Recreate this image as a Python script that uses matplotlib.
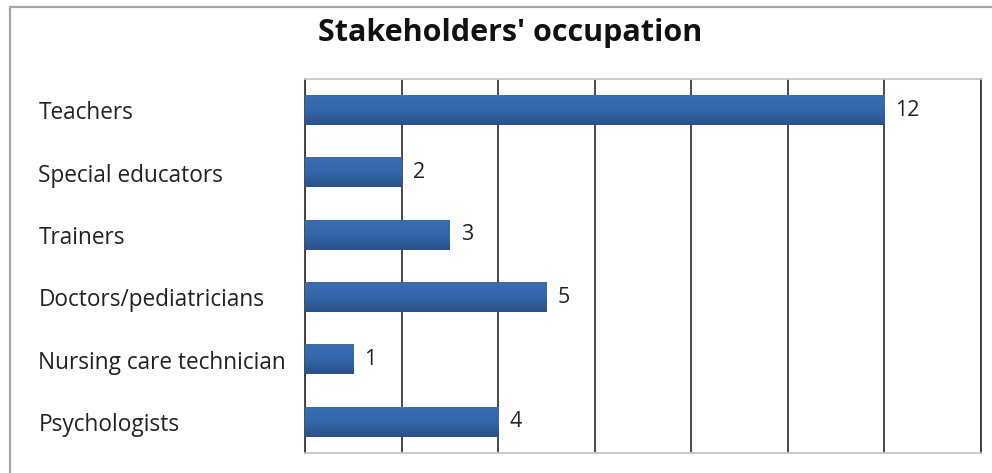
import matplotlib.pyplot as plt
import numpy as np
from matplotlib.colors import LinearSegmentedColormap
from matplotlib.patches import Rectangle

categories = ['Teachers', 'Special educators', 'Trainers', 'Doctors/pediatricians',
              'Nursing care technician', 'Psychologists']
counts = [12, 2, 3, 5, 1, 4]

plt.rcParams['font.family'] = ['Open Sans', 'DejaVu Sans']

fig = plt.figure(figsize=(9.92, 4.73), dpi=100)
ax = fig.add_axes([305 / 992, 1 - 453 / 473, 676 / 992, 374 / 473])

# outer chart border (only left and top visible in the crop)
fig.patches.append(Rectangle((10 / 992, -0.1), 1.2, 1.1 - 7 / 473,
                             transform=fig.transFigure, fill=False,
                             edgecolor='#a6a6a6', linewidth=1.6, zorder=0))

ypos = np.arange(len(categories))
bars = ax.barh(ypos, counts, height=0.48, color='#3163a3', zorder=3)

# vertical gradient on each bar
cmap = LinearSegmentedColormap.from_list('bar', ['#3a6cb2', '#3466aa', '#2a5189'])
grad = np.linspace(0, 1, 64).reshape(-1, 1)
for b in bars:
    x0, y0, w, h = b.get_x(), b.get_y(), b.get_width(), b.get_height()
    b.set_visible(False)
    ax.imshow(grad, cmap=cmap, aspect='auto', extent=(x0, x0 + w, y0 + h, y0),
              zorder=3, interpolation='bilinear')

for y, v in zip(ypos, counts):
    ax.text(v + 0.23, y, str(v), va='center', ha='left', fontsize=15.5, color='#222222')

ax.set_xlim(0, 14)
ax.set_ylim(len(categories) - 0.5, -0.5)
ax.set_xticks(np.arange(0, 15, 2))
ax.set_xticklabels([])
ax.tick_params(axis='x', length=0)
ax.grid(axis='x', color='#3a3a3a', linewidth=1.3, zorder=1)
ax.set_axisbelow(True)

ax.set_yticks(ypos)
ax.set_yticklabels(categories, fontsize=16.3, color='#222222')
ax.tick_params(axis='y', length=0, pad=192)
for lab in ax.get_yticklabels():
    lab.set_horizontalalignment('left')

for s in ['top', 'bottom']:
    ax.spines[s].set_color('#c8c8c8')
    ax.spines[s].set_linewidth(1.3)
for s in ['left', 'right']:
    ax.spines[s].set_color('#3a3a3a')
    ax.spines[s].set_linewidth(1.3)

fig.text(510 / 992, 1 - 33 / 473, "Stakeholders' occupation", ha='center', va='center',
         fontsize=22, fontweight='bold', color='#111111')

fig.savefig('out.png', dpi=100)
